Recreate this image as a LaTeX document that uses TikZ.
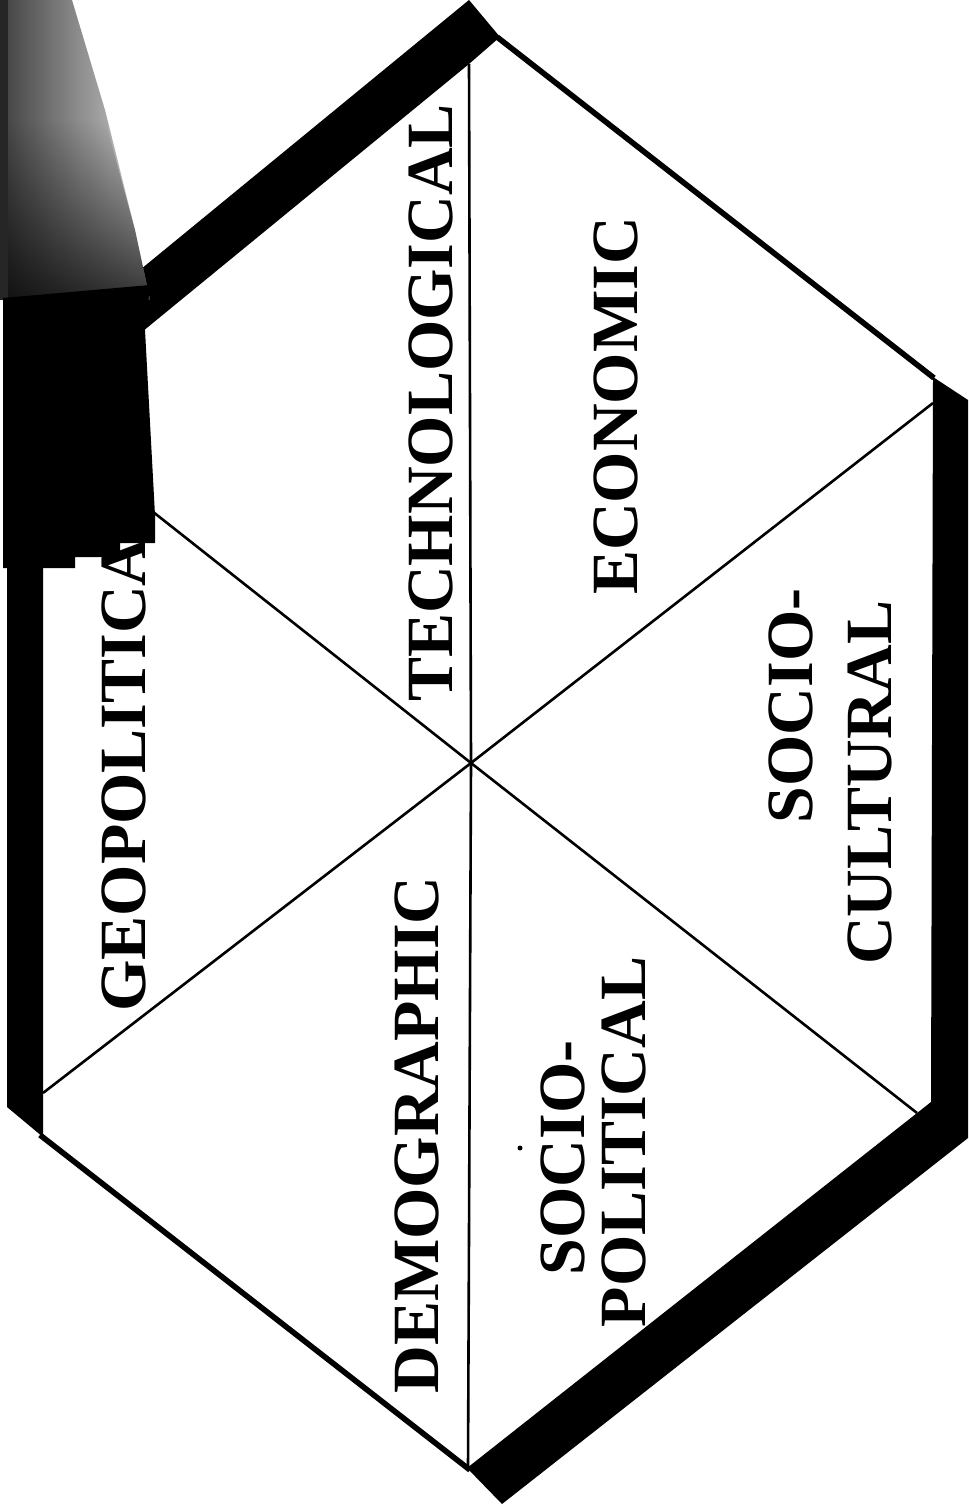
\documentclass[tikz,border=0pt]{standalone}
\usepackage{fontspec}
\setmainfont{Liberation Serif}
\usetikzlibrary{fadings}
\begin{document}
\begin{tikzpicture}[x=0.5pt,y=-0.5pt,
  lbl/.style={rotate=90, inner sep=0pt, anchor=base, font=\fontsize{33}{38}\selectfont\bfseries},
  spoke/.style={line width=1.3pt, black},
  edgethin/.style={line width=2.8pt, black},
  band/.style={fill=black}
]
\path[use as bounding box, fill=white] (0,0) rectangle (968,1508);
% key points
\coordinate (C) at (471,763);
\coordinate (T) at (469,64);
\coordinate (B) at (468,1468);
\coordinate (UR) at (933,403);
\coordinate (LR) at (917,1113);
\coordinate (LL) at (43,1093);
\coordinate (UL) at (43,425);
% spokes
\draw[spoke] (C) -- (T);
\draw[spoke] (C) -- (B);
\draw[spoke] (C) -- (UR);
\draw[spoke] (C) -- (LR);
\draw[spoke] (C) -- (LL);
\draw[spoke] (C) -- (UL);
% thin edges
\coordinate (urA) at (497,37);
\coordinate (urB) at (934,378);
\coordinate (llA) at (40,1135);
\coordinate (llB) at (470,1470);
\draw[edgethin] (urA) -- (urB);
\draw[edgethin] (llA) -- (llB);
% thick bands
\fill[band] (469,0) -- (500,37) -- (469,64) -- (43,413) -- (43,1137) -- (7,1107) -- (7,379) -- cycle;
\fill[band] (933,377) -- (968,400) -- (968,1138) -- (502,1504) -- (467,1468) -- (931,1102) -- cycle;
% scan artefacts at the upper left
\shade[left color=black!72, right color=black!18] (7,0) -- (72,0) -- (105,110) -- (135,230) -- (150,300) -- (7,300) -- cycle;
\fill[black, opacity=0.75, path fading=north] (7,120) -- (105,120) -- (135,230) -- (150,300) -- (7,300) -- cycle;
\fill[black!85] (0,0) rectangle (8,300);
\fill[black] (3,298) -- (150,285) -- (145,330) -- (155,515) -- (155,543) -- (120,543) -- (120,557) -- (75,557) -- (75,568) -- (3,568) -- cycle;
% labels
\node[lbl] (tech) at (452,403) {TECHNOLOGICAL};
\node[lbl] (econ) at (637,406) {ECONOMIC};
\node[lbl] (geo) at (145,775) {GEOPOLITICA};
\node[lbl] (demo) at (438,1135) {DEMOGRAPHIC};
\node[lbl] (sp1) at (584,1158) {SOCIO-};
\node[lbl] (sp2) at (645,1142) {POLITICAL};
\node[lbl, anchor=base east] (sc1) at (812,588) {SOCIO-};
\node[lbl, anchor=base east] (sc2) at (891,600) {CULTURAL};
\fill (520,1148) circle (2.5);
\end{tikzpicture}
\end{document}
